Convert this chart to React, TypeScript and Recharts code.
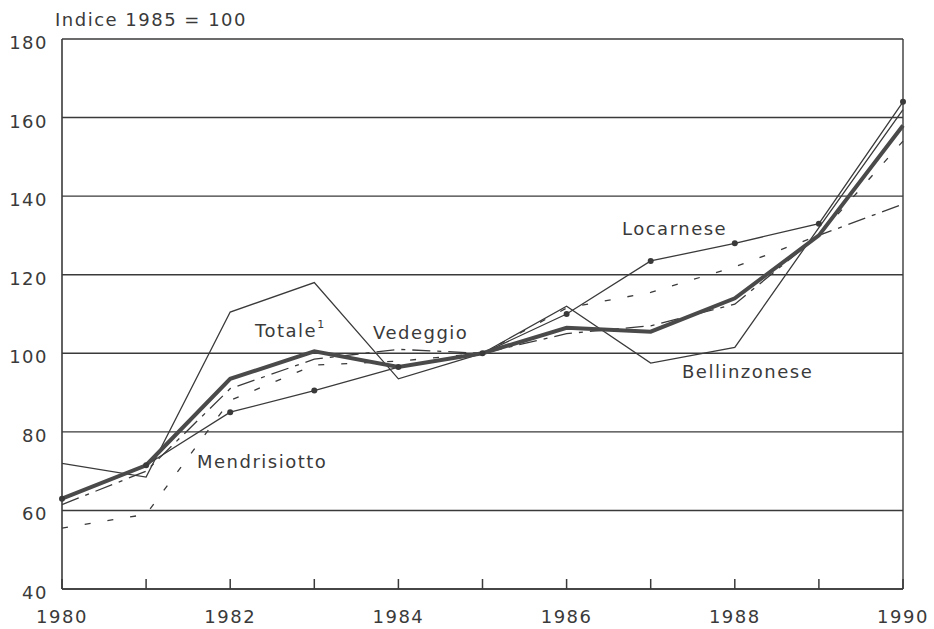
import { LineChart, Line, XAxis, YAxis, CartesianGrid, ReferenceLine } from 'recharts';

const years = [1980, 1981, 1982, 1983, 1984, 1985, 1986, 1987, 1988, 1989, 1990];
const totale = [63, 71.5, 93.5, 100.5, 96.5, 100, 106.5, 105.5, 114, 130, 158];
const bellinzonese = [72, 68.5, 110.5, 118, 93.5, 100, 112, 97.5, 101.5, 132, 162];
const locarnese = [63, 71.5, 85, 90.5, 96.5, 100, 110, 123.5, 128, 133, 164];
const vedeggio = [61.5, 70, 91, 98.5, 101, 100, 105, 107, 112.5, 130, 138];
const mendrisiotto = [55.5, 59, 88, 97, 98, 100, 111.5, 115.5, 122, 130, 154];
const yTicks = [40, 60, 80, 100, 120, 140, 160, 180];

const data = years.map((year, i) => ({
  year,
  totale: totale[i],
  bellinzonese: bellinzonese[i],
  locarnese: locarnese[i],
  vedeggio: vedeggio[i],
  mendrisiotto: mendrisiotto[i],
}));

const ink = '#3a3a3a';
const font = '"DejaVu Sans", sans-serif';

const XTick = ({ x, y, payload }: any) => (
  <g>
    <line x1={x} x2={x} y1={y} y2={y - 10} stroke={ink} strokeWidth={1.5} />
    {payload.value % 2 === 0 && (
      <text x={x} y={y + 34} textAnchor="middle" fill={ink} fontSize={18} fontFamily={font} letterSpacing={1.5}>
        {payload.value}
      </text>
    )}
  </g>
);

const YTick = ({ x, y, payload }: any) => (
  <text x={x - 14} y={y + 10} textAnchor="end" fill={ink} fontSize={18} fontFamily={font} letterSpacing={1.5}>
    {payload.value}
  </text>
);

const Marker = ({ cx, cy }: any) => <circle cx={cx} cy={cy} r={3} fill={ink} />;

const labelStyle = { fill: ink, fontSize: 18, fontFamily: font, letterSpacing: 1.5 };

export default function App() {
  return (
    <div style={{ position: 'absolute', left: 0, top: 0, width: 934, height: 629, background: '#fff' }}>
      <LineChart width={934} height={629} data={data} margin={{ top: 39, right: 31, left: 0, bottom: 0 }}>
        <CartesianGrid vertical={false} stroke={ink} strokeWidth={1.4} strokeOpacity={1} />
        <XAxis
          dataKey="year"
          type="number"
          domain={[1980, 1990]}
          ticks={years}
          interval={0}
          tick={<XTick />}
          tickLine={false}
          tickSize={0}
          tickMargin={0}
          axisLine={{ stroke: ink, strokeWidth: 1.6 }}
          height={40}
        />
        <YAxis
          type="number"
          domain={[40, 180]}
          ticks={yTicks}
          interval={0}
          tick={<YTick />}
          tickLine={false}
          tickSize={0}
          tickMargin={0}
          axisLine={{ stroke: ink, strokeWidth: 1.6 }}
          width={62}
        />
        <ReferenceLine x={1990} stroke={ink} strokeWidth={1.4} />
        <Line dataKey="mendrisiotto" stroke={ink} strokeWidth={1.3} strokeDasharray="6 17" dot={false} isAnimationActive={false} />
        <Line dataKey="vedeggio" stroke={ink} strokeWidth={1.3} strokeDasharray="18 7 4 7" dot={false} isAnimationActive={false} />
        <Line dataKey="bellinzonese" stroke={ink} strokeWidth={1.3} dot={false} isAnimationActive={false} />
        <Line dataKey="locarnese" stroke={ink} strokeWidth={1.3} dot={<Marker />} isAnimationActive={false} />
        <Line dataKey="totale" stroke="#4a4a4a" strokeWidth={4} dot={false} isAnimationActive={false} />
      </LineChart>
      <svg width={934} height={629} style={{ position: 'absolute', left: 0, top: 0, pointerEvents: 'none' }}>
        <text x={55} y={26} {...labelStyle}>Indice 1985 = 100</text>
        <text x={255} y={337} {...labelStyle}>
          Totale<tspan fontSize={11} dy={-9}>1</tspan>
        </text>
        <text x={373} y={339} {...labelStyle}>Vedeggio</text>
        <text x={622} y={235} {...labelStyle}>Locarnese</text>
        <text x={682} y={378} {...labelStyle}>Bellinzonese</text>
        <text x={197} y={468} {...labelStyle}>Mendrisiotto</text>
      </svg>
    </div>
  );
}
